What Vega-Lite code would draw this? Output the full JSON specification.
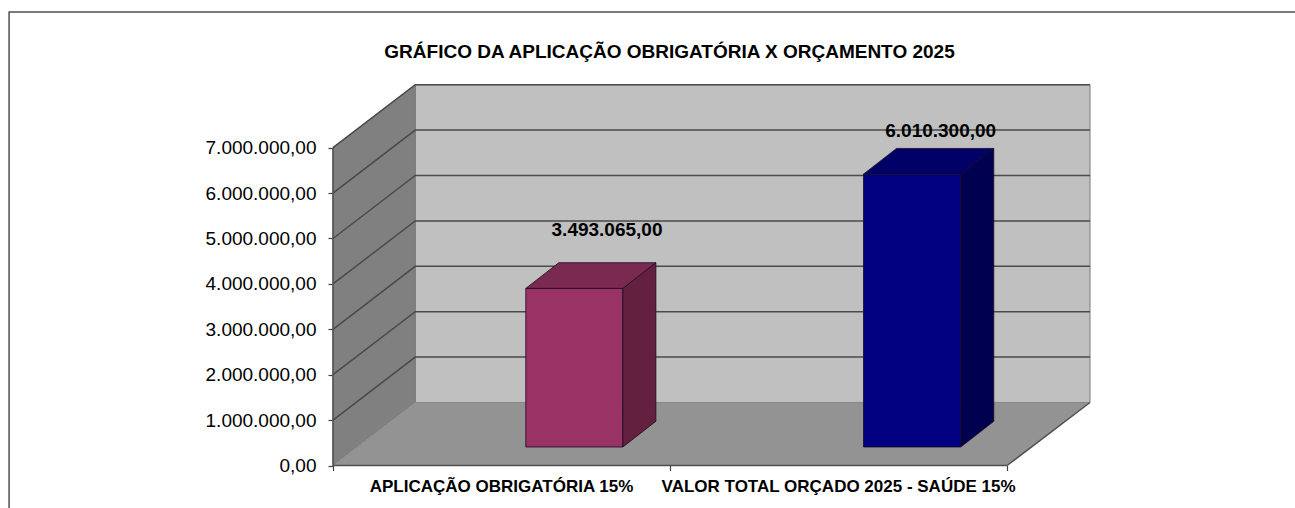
{"$schema":"https://vega.github.io/schema/vega-lite/v6.json","width":757,"height":380.5,"padding":{"left":333,"top":85,"right":205,"bottom":42.5},"autosize":{"type":"none"},"background":"white","config":{"locale":{"number":{"decimal":",","thousands":".","grouping":[3],"currency":["R$ ",""]}},"view":{"stroke":null},"font":"Liberation Sans"},"title":{"text":"GRÁFICO DA APLICAÇÃO OBRIGATÓRIA X ORÇAMENTO 2025","anchor":"middle","frame":"group","dx":-42,"offset":-53,"fontSize":19,"fontWeight":"bold","font":"Liberation Sans","color":"#000000"},"encoding":{"x":{"field":"x","type":"quantitative","scale":{"domain":[0,2.246],"nice":false,"zero":false},"axis":{"title":null,"values":[0,1,2],"labels":false,"domain":false,"grid":false,"tickSize":5,"tickColor":"#404040","tickWidth":1.2}},"y":{"field":"y","type":"quantitative","scale":{"domain":[0,8381000],"nice":false,"zero":false},"axis":{"title":null,"values":[0,1000000,2000000,3000000,4000000,5000000,6000000,7000000],"format":",.2f","domain":false,"grid":false,"tickSize":5,"tickColor":"#404040","tickWidth":1.2,"labelPadding":12,"labelFontSize":19,"labelColor":"#000000","labelFont":"Liberation Sans"}},"fill":{"field":"face","type":"nominal","legend":null,"scale":{"domain":["fundo","parede","frente1","lado1","frente2","lado2","topo1","topo2"],"range":["#C0C0C0","#808080","#993366","#64203F","#000080","#000050","#7A2951","#000066"]}}},"layer":[{"data":{"values":[{"face":"fundo","x":0.244,"y":8388000,"y2":1388000},{"face":"fundo","x":2.246,"y":8388000,"y2":1388000},{"face":"parede","x":0,"y":7000000,"y2":0},{"face":"parede","x":0.244,"y":8388000,"y2":1388000}]},"mark":{"type":"area","stroke":"#7a7a7a","strokeWidth":1,"clip":false},"encoding":{"y2":{"field":"y2"}}},{"data":{"values":[{"face":"piso","y":0,"x":0,"x2":2},{"face":"piso","y":1388000,"x":0.244,"x2":2.246}]},"mark":{"type":"area","orient":"horizontal","fill":"#939393","clip":false},"encoding":{"x2":{"field":"x2"},"fill":{"value":"#939393"}}},{"data":{"values":[{"g":"1M","x":0,"y":1000000},{"g":"1M","x":0.244,"y":2388000},{"g":"1M","x":2.246,"y":2388000},{"g":"2M","x":0,"y":2000000},{"g":"2M","x":0.244,"y":3388000},{"g":"2M","x":2.246,"y":3388000},{"g":"3M","x":0,"y":3000000},{"g":"3M","x":0.244,"y":4388000},{"g":"3M","x":2.246,"y":4388000},{"g":"4M","x":0,"y":4000000},{"g":"4M","x":0.244,"y":5388000},{"g":"4M","x":2.246,"y":5388000},{"g":"5M","x":0,"y":5000000},{"g":"5M","x":0.244,"y":6388000},{"g":"5M","x":2.246,"y":6388000},{"g":"6M","x":0,"y":6000000},{"g":"6M","x":0.244,"y":7388000},{"g":"6M","x":2.246,"y":7388000},{"g":"7M","x":0,"y":7000000},{"g":"7M","x":0.244,"y":8388000},{"g":"7M","x":2.246,"y":8388000}]},"mark":{"type":"line","color":"#4a4a4a","strokeWidth":1.5,"clip":false},"encoding":{"detail":{"field":"g"},"fill":{"value":null}}},{"data":{"values":[{"g":"borda","n":0,"x":2,"y":0},{"g":"borda","n":1,"x":2.246,"y":1388000},{"g":"eixo","n":0,"x":0,"y":7000000},{"g":"eixo","n":1,"x":0,"y":0},{"g":"eixo","n":2,"x":2,"y":0}]},"mark":{"type":"line","color":"#505050","strokeWidth":1.5,"clip":false},"encoding":{"detail":{"field":"g"},"order":{"field":"n"},"fill":{"value":null}}},{"data":{"values":[{"n":0,"x":-0.961,"y":-980000},{"n":1,"x":-0.961,"y":9989000},{"n":2,"x":2.87,"y":9989000}]},"mark":{"type":"line","color":"#505050","strokeWidth":1.5,"clip":false},"encoding":{"order":{"field":"n"},"fill":{"value":null}}},{"data":{"values":[{"face":"frente1","x":0.572,"y":3900600,"y2":407500},{"face":"frente1","x":0.86,"y":3900600,"y2":407500},{"face":"lado1","x":0.86,"y":3900600,"y2":407500},{"face":"lado1","x":0.958,"y":4466600,"y2":973500},{"face":"frente2","x":1.574,"y":6417800,"y2":407500},{"face":"frente2","x":1.8626,"y":6417800,"y2":407500},{"face":"lado2","x":1.8626,"y":6417800,"y2":407500},{"face":"lado2","x":1.9605,"y":6983800,"y2":973500}]},"mark":{"type":"area","stroke":"#1a0a20","strokeWidth":0.8,"clip":false},"encoding":{"y2":{"field":"y2"},"detail":{"field":"face"}}},{"data":{"values":[{"face":"topo1","y":3900600,"x":0.572,"x2":0.86},{"face":"topo1","y":4466600,"x":0.67,"x2":0.958},{"face":"topo2","y":6417800,"x":1.574,"x2":1.8626},{"face":"topo2","y":6983800,"x":1.6719,"x2":1.9605}]},"mark":{"type":"area","orient":"horizontal","stroke":"#1a0a20","strokeWidth":0.8,"clip":false},"encoding":{"x2":{"field":"x2"},"detail":{"field":"face"}}},{"data":{"values":[{"valor":3493065,"x":0.813,"y":5055000},{"valor":6010300,"x":1.803,"y":7236000}]},"mark":{"type":"text","font":"Liberation Sans","fontWeight":"bold","fontSize":19,"color":"#000000","align":"center","baseline":"alphabetic","clip":false},"encoding":{"text":{"field":"valor","type":"quantitative","format":",.2f"},"fill":{"value":"#000000"}}},{"data":{"values":[{"categoria":"APLICAÇÃO OBRIGATÓRIA 15%","x":0.5,"y":-577000},{"categoria":"VALOR TOTAL ORÇADO 2025 - SAÚDE 15%","x":1.5,"y":-577000}]},"mark":{"type":"text","font":"Liberation Sans","fontWeight":"bold","fontSize":17,"color":"#000000","align":"center","baseline":"alphabetic","clip":false},"encoding":{"text":{"field":"categoria","type":"nominal"},"fill":{"value":"#000000"}}}]}
